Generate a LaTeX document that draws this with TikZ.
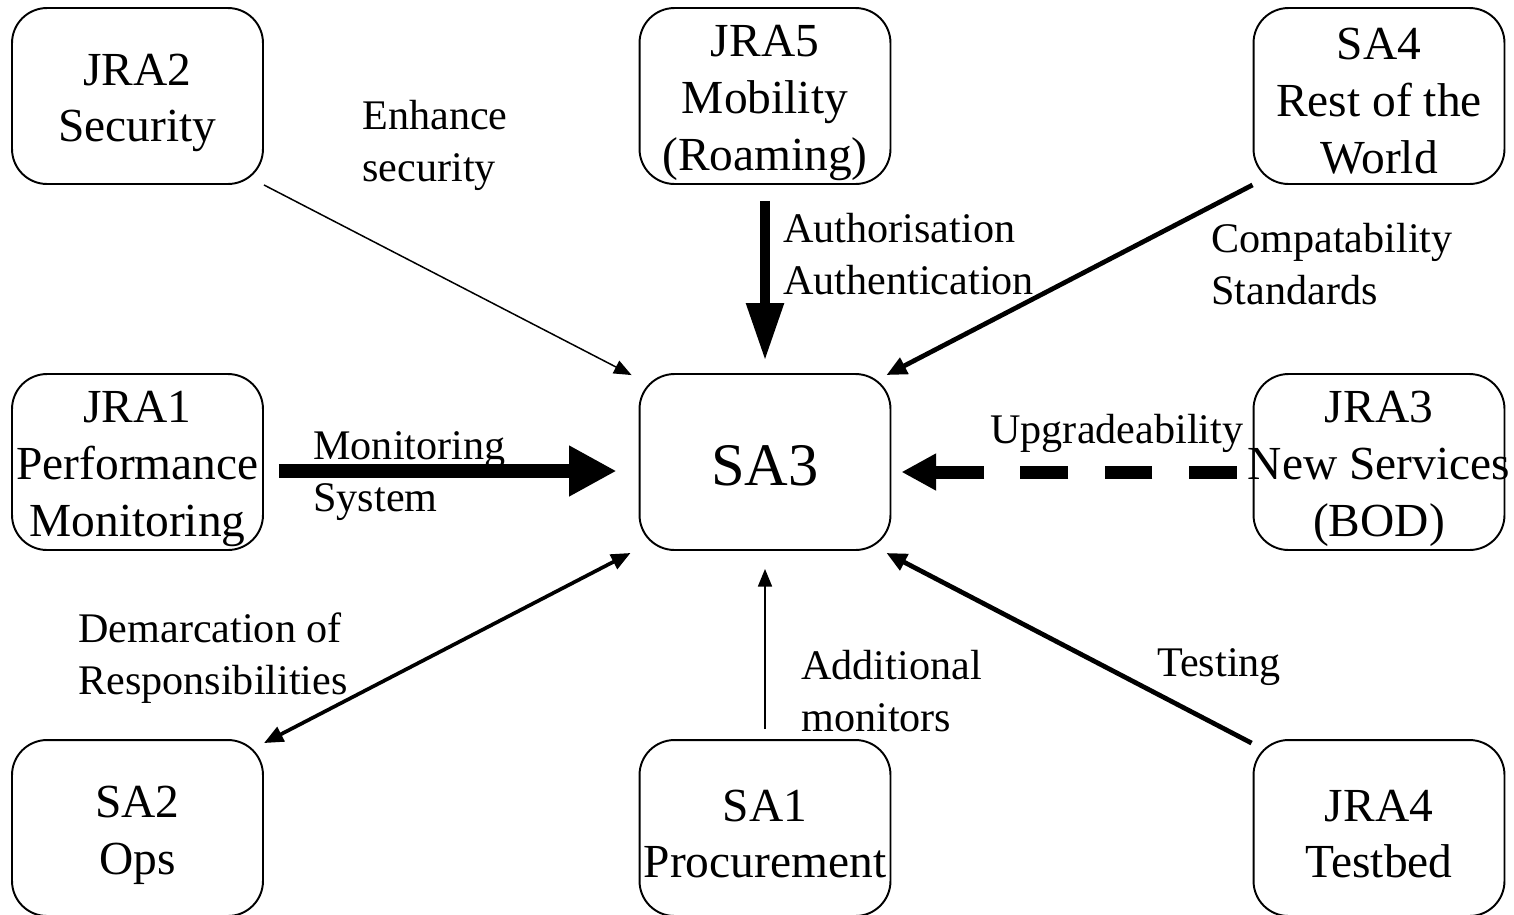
\documentclass[tikz,border=0pt]{standalone}
\usepackage{fontspec}
\setmainfont{Liberation Serif}
\usetikzlibrary{arrows.meta,calc}
\begin{document}
\begin{tikzpicture}[x=0.02cm,y=-0.02cm,
  box/.style={draw,line width=1.1pt,rounded corners=0.7cm,minimum width=5.02cm,minimum height=3.52cm,inner sep=0pt},
  boxtext/.style={font=\fontsize{27}{32.3}\selectfont,align=center,inner sep=0pt},
  bigtext/.style={font=\fontsize{34.4}{40}\selectfont,inner sep=0pt},
  lbl/.style={font=\fontsize{24}{29.5}\selectfont,align=left,inner sep=0pt,anchor=west},
  thinarrow/.style={line width=0.85pt,-{Triangle[length=10pt,width=8pt]}},
  medarrow/.style={line width=2.7pt,-{Triangle[length=11.5pt,width=10pt]}},
  dblarrow/.style={line width=2.1pt,{Triangle[length=11pt,width=9pt]}-{Triangle[length=11pt,width=9pt]}},
  fatdown/.style={line width=6.2pt,-{Triangle[length=33pt,width=20pt]}},
  fatright/.style={line width=8.5pt,-{Triangle[length=27pt,width=27pt]}},
  dasharrow/.style={line width=7.4pt,dash pattern=on 27.2pt off 20.7pt,-{Triangle[length=19.8pt,width=19.8pt]}},
]
\useasboundingbox (0,0) rectangle (1514,914);

% boxes
\node[box] (jra2) at (137.5,96) {};
\node[box] (jra5) at (765,96) {};
\node[box] (sa4)  at (1379,96) {};
\node[box] (jra1) at (137.5,462) {};
\node[box] (sa3)  at (765,462) {};
\node[box] (jra3) at (1379,462) {};
\node[box] (sa2)  at (137.5,828) {};
\node[box] (sa1)  at (765,828) {};
\node[box] (jra4) at (1379,828) {};

% box texts
\node[boxtext] (jra2t) at (137.5,103) {JRA2\\Security};
\node[boxtext] (jra5t) at (765,103) {JRA5\\Mobility\\(Roaming)};
\node[boxtext] (sa4t)  at (1379,101) {SA4\\Rest of the\\World};
\node[boxtext] (jra1t) at (137.5,469) {JRA1\\Performance\\Monitoring};
\node[bigtext] (sa3t)  at (765,466) {SA3};
\node[boxtext] (jra3t) at (1379,469) {JRA3\\New Services\\(BOD)};
\node[boxtext] (sa2t)  at (137.5,835) {SA2\\Ops};
\node[boxtext] (sa1t)  at (765,834) {SA1\\Procurement};
\node[boxtext] (jra4t) at (1379,834) {JRA4\\Testbed};

% connectors
\draw[thinarrow] (jra2.south east) -- ($(sa3.north west)+(-7,2)$);
\draw[fatdown] ($(jra5.south)+(0,16)$) -- ($(sa3.north)+(0,-12)$);
\draw[medarrow] (sa4.south west) -- ($(sa3.north east)+(-5,2)$);
\draw[fatright] ($(jra1.east)+(15,9)$) -- ($(sa3.west)+(-22,9)$);
\draw[dasharrow] ($(jra3.west)+(-16,10)$) -- ($(sa3.east)+(10,10)$);
\draw[dblarrow] ($(sa3.south west)+(-8,2)$) -- ($(sa2.north east)+(0,4)$);
\draw[thinarrow] ($(sa1.north)+(0,-10)$) -- ($(sa3.south)+(0,18)$);
\draw[medarrow] ($(jra4.north west)+(-1,4)$) -- ($(sa3.south east)+(-5,2)$);

% labels
\node[lbl] (l1) at (362,145) {Enhance\\security};
\node[lbl] (l2) at (783,254) {Authorisation\\Authentication};
\node[lbl] (l3) at (1211,264) {Compatability\\Standards};
\node[lbl] (l4) at (313,476) {Monitoring\\System};
\node[lbl] (l5) at (990,433) {Upgradeability};
\node[lbl] (l6) at (78,658) {Demarcation of\\Responsibilities};
\node[lbl] (l7) at (801,691) {Additional\\monitors};
\node[lbl] (l8) at (1157,667) {Testing};
\end{tikzpicture}
\end{document}
